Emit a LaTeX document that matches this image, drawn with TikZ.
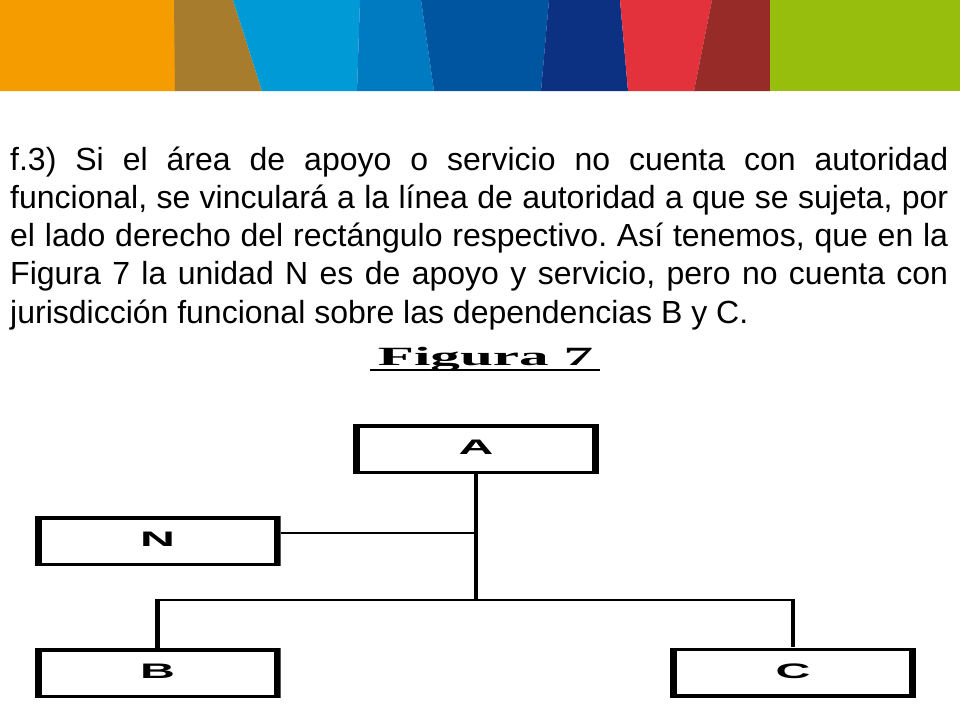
\documentclass[tikz,border=0pt]{standalone}
\usepackage{fontspec}
\setmainfont{Liberation Sans}
\newfontfamily\serifff{Liberation Serif}
\frenchspacing
\definecolor{cOrange}{HTML}{F59C00}
\definecolor{cBrown}{HTML}{A77C2C}
\definecolor{cCyan}{HTML}{009AD7}
\definecolor{cMed}{HTML}{007BC2}
\definecolor{cBlue}{HTML}{0055A0}
\definecolor{cNavy}{HTML}{0C3183}
\definecolor{cRed}{HTML}{E3323B}
\definecolor{cDRed}{HTML}{962B27}
\definecolor{cGreen}{HTML}{97BE0D}
\tikzset{
  txtline/.style={anchor=base west, inner sep=0pt, font=\fontsize{32pt}{38pt}\selectfont\frenchspacing},
  boxnode/.style={rectangle, inner sep=0pt, minimum width=246pt, minimum height=50pt,
    text depth=3pt, fill=white,
    font=\fontsize{21pt}{23pt}\selectfont\bfseries,
    path picture={
      \fill[black] (path picture bounding box.south west) rectangle (path picture bounding box.north east);
      \fill[white] ([xshift=7pt,yshift=3.5pt]path picture bounding box.south west) rectangle ([xshift=-7pt,yshift=-3.5pt]path picture bounding box.north east);
    }},
  vline/.style={line width=4.5pt, black},
  hline/.style={line width=2.5pt, black}
}
\newcommand{\wide}[1]{\scalebox{2.3}[1]{#1}}
\begin{document}
\begin{tikzpicture}[x=1pt,y=-1pt]
\useasboundingbox (0,0) rectangle (960,720);
\fill[white] (0,0) rectangle (960,720);
% banner
\fill[cOrange] (0,0) -- (175,0) -- (176,91) -- (0,91) -- cycle;
\fill[cBrown] (174,0) -- (233,0) -- (262,91) -- (175,91) -- cycle;
\fill[cCyan] (233,0) -- (360,0) -- (357,91) -- (262,91) -- cycle;
\fill[cMed] (360,0) -- (421,0) -- (434,91) -- (357,91) -- cycle;
\fill[cBlue] (421,0) -- (549,0) -- (541,91) -- (434,91) -- cycle;
\fill[cNavy] (549,0) -- (620,0) -- (628,91) -- (541,91) -- cycle;
\fill[cRed] (620,0) -- (712,0) -- (694,91) -- (628,91) -- cycle;
\fill[cDRed] (712,0) -- (770,0) -- (770,91) -- (694,91) -- cycle;
\fill[cGreen] (770,0) -- (960,0) -- (960,91) -- (770,91) -- cycle;
% paragraph
\node[txtline] (l1) at (10,170) {\makebox[938pt][s]{f.3) Si el área de apoyo o servicio no cuenta con autoridad}};
\node[txtline] (l2) at (10,208.25) {\makebox[938pt][s]{funcional, se vinculará a la línea de autoridad a que se sujeta, por}};
\node[txtline] (l3) at (10,246.5) {\makebox[938pt][s]{el lado derecho del rectángulo respectivo. Así tenemos, que en la}};
\node[txtline] (l4) at (10,284.75) {\makebox[938pt][s]{Figura 7 la unidad N es de apoyo y servicio, pero no cuenta con}};
\node[txtline] (l5) at (10,323) {jurisdicción funcional sobre las dependencias B y C.};
% title
\node[anchor=base, inner sep=0pt] (title) at (485.5,365.5) {\scalebox{2.25}[1]{\fontsize{26.3pt}{30pt}\serifff\bfseries Figura 7}};
\draw[line width=2pt] ([xshift=-8pt,yshift=-4pt]title.base west) -- ([xshift=7pt,yshift=-4pt]title.base east);
% boxes
\node[boxnode] (A) at (476,449) {\wide{A}};
\node[boxnode] (N) at (157.5,541) {\wide{N}};
\node[boxnode] (B) at (157.5,673) {\wide{B}};
\node[boxnode] (C) at (793,672.5) {\wide{C}};
% connectors
\coordinate (J) at (A.south |- 0,600);
\draw[vline] (A.south) -- (J);
\draw[hline] ([yshift=8pt]N.east) -- ([yshift=8pt]N.east -| A.south);
\draw[hline] (B.north |- J) -- (C.north |- J);
\draw[vline] ([yshift=1.25pt]B.north |- J) -- (B.north);
\draw[vline] ([yshift=1.25pt]C.north |- J) -- (C.north);
\end{tikzpicture}
\end{document}
